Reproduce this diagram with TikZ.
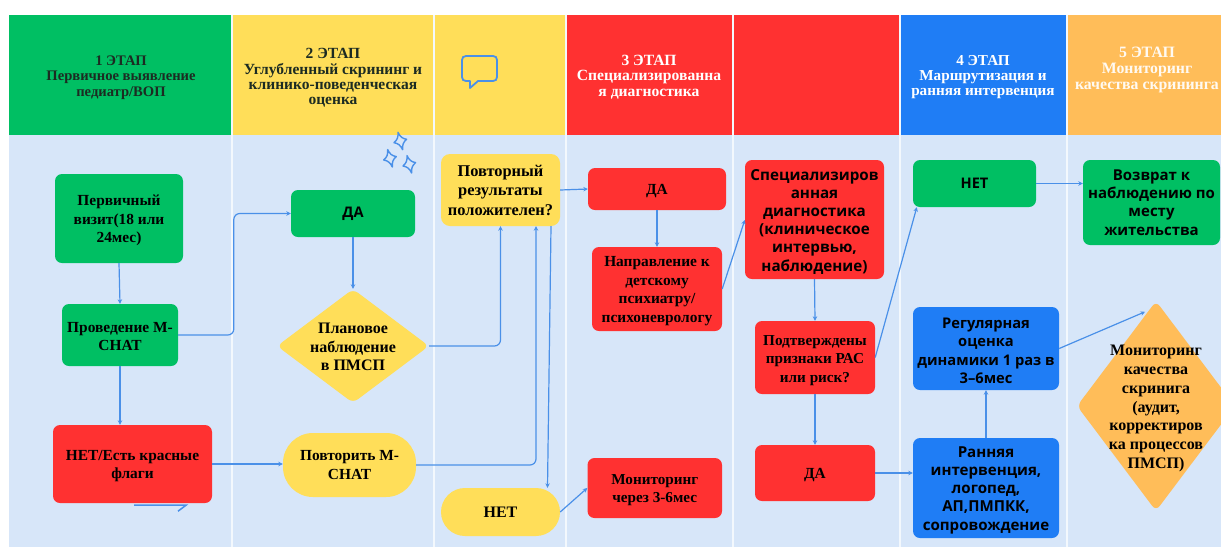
\documentclass[tikz,border=0pt]{standalone}
\usepackage{fontspec}
\setmainfont{Liberation Serif}
\newfontfamily\sansb{Open Sans}
\usetikzlibrary{arrows.meta,calc,shapes.geometric}
\definecolor{cgreen}{HTML}{00BF63}
\definecolor{cyellow}{HTML}{FFDE59}
\definecolor{cred}{HTML}{FF3131}
\definecolor{cblue}{HTML}{1F7DF5}
\definecolor{corange}{HTML}{FFBD59}
\definecolor{cbg}{HTML}{D7E6F9}
\definecolor{cline}{HTML}{4A90E8}
\definecolor{cdark}{HTML}{1C2B22}
\newcommand{\fs}[2]{\fontsize{#1}{#2}\selectfont\bfseries}
\newcommand{\fsans}[2]{\fontsize{#1}{#2}\selectfont\sansb\bfseries}
\newcommand{\lowr}[1]{\rule{0pt}{#1pt}}
\tikzset{
  headtxt/.style={align=center,inner sep=0pt},
  box/.style={rounded corners=7pt,inner sep=0pt,align=center,font=\fs{15.4}{18.3},text=black},
  sbox/.style={box,font=\fsans{14.6}{18.2}},
  dia/.style={diamond,rounded corners=6pt,inner sep=0pt},
  nodetxt/.style={align=center,inner sep=0pt,text=black},
  conn/.style={draw=cline,line width=1.2pt,-{Stealth[length=4.5pt,width=4.5pt]}},
  elbow/.style={conn,rounded corners=6pt},
  icon/.style={draw=cline,line width=1.8pt,line join=round}
}
\begin{document}
\begin{tikzpicture}[x=1pt,y=-1pt]
\useasboundingbox (0,0) rectangle (1221,547);
\fill[white] (0,0) rectangle (1221,547);
\fill[cbg] (9,135) rectangle (1221,547);
% header bands
\fill[cgreen]  (9,15)   rectangle (232,135);
\fill[cyellow] (232,15) rectangle (434,135);
\fill[cyellow] (434,15) rectangle (566,135);
\fill[cred]    (566,15) rectangle (733,135);
\fill[cred]    (733,15) rectangle (900,135);
\fill[cblue]   (900,15) rectangle (1067,135);
\fill[corange] (1067,15) rectangle (1221,135);
\foreach \xx in {232,434,566,733,900,1067}
  \draw[white!70!cbg,line width=1.4pt] (\xx,15) -- (\xx,547);
% header text
\node[headtxt,text=cdark,font=\fs{14.6}{15.3}] (h1) at (121,77.5) {1 ЭТАП\\Первичное выявление\\педиатр/ВОП};
\node[headtxt,text=cdark,font=\fs{15.5}{15.4}] (h2) at (333,78) {2 ЭТАП\\Углубленный скрининг и\\клинико-поведенческая\\оценка};
\node[headtxt,text=white,font=\fs{15.6}{15.4}] (h3) at (649,77) {3 ЭТАП\\Специализированна\\я диагностика};
\node[headtxt,text=white,font=\fs{15.2}{15.4}] (h4) at (983,77) {4 ЭТАП\\Маршрутизация и\\ранняя интервенция};
\node[headtxt,text=white!92!corange,font=\fs{15.8}{15.8}] (h5) at (1147,70) {5 ЭТАП\\Мониторинг\\качества скрининга};
% speech bubble icon
\draw[icon] (466,56) -- (493,56) .. controls (495.5,56) and (497,57.5) .. (497,60) -- (497,77)
  .. controls (497,79.5) and (495.5,81) .. (493,81) -- (478,81) -- (470,88) -- (470,81) -- (466,81)
  .. controls (463.5,81) and (462,79.5) .. (462,77) -- (462,60) .. controls (462,57.5) and (463.5,56) .. (466,56) -- cycle;
% sparkles
\foreach \px/\py in {400.3/141,390/158.3,409.3/164.3}
  \draw[icon,line width=1.4pt,shift={(\px,\py)},rotate=15]
    (0,-9) .. controls (1,-4) and (2.5,-2) .. (6.5,0) .. controls (2.5,2) and (1,4) .. (0,9)
    .. controls (-1,4) and (-2.5,2) .. (-6.5,0) .. controls (-2.5,-2) and (-1,-4) .. (0,-9) -- cycle;
% column 1
\node[box,fill=cgreen,minimum width=128pt,minimum height=89pt] (visit) at (119,218.5) {\lowr{14.5}Первичный\\визит(18 или\\24мес)};
\node[box,fill=cgreen,minimum width=116pt,minimum height=62pt] (mchat) at (120,335) {\lowr{12.5}Проведение М-\\СНАТ};
\node[box,fill=cred,minimum width=159pt,minimum height=78pt] (flags) at (132.5,464) {\lowr{14.5}НЕТ/Есть красные\\флаги};
% column 2
\node[sbox,fill=cgreen,minimum width=124pt,minimum height=47pt] (yes1) at (353,213.5) {ДА};
\node[dia,fill=cyellow,minimum width=152pt,minimum height=114pt] (plan) at (353,346) {};
\node[nodetxt,font=\fs{16}{18.6},yshift=-1pt] (plantxt) at (plan.center) {Плановое\\наблюдение\\в ПМСП};
\node[box,fill=cyellow,rounded corners=30pt,minimum width=133pt,minimum height=64pt] (again) at (349.5,465) {Повторить М-\\СНАТ};
% column 3
\node[box,fill=cyellow,rounded corners=9pt,font=\fs{16.4}{19.5},minimum width=119pt,minimum height=72pt] (result) at (500.5,190) {Повторный\\результаты\\положителен?};
\node[box,fill=cyellow,rounded corners=24pt,font=\fs{16}{18},minimum width=119pt,minimum height=48pt] (no1) at (500.5,512) {НЕТ};
% column 4
\node[box,fill=cred,minimum width=138pt,minimum height=42pt] (yes2) at (657,189) {\lowr{14.5}ДА};
\node[box,fill=cred,font=\fs{15.4}{18.6},minimum width=130pt,minimum height=84pt] (refer) at (657,289) {\lowr{14.5}Направление к\\детскому\\психиатру/\\психоневрологу};
\node[box,fill=cred,font=\fs{15.2}{18},minimum width=134.5pt,minimum height=60pt] (mon36) at (654.75,488) {\lowr{14.5}Мониторинг\\через 3-6мес};
% column 5
\node[sbox,fill=cred,font=\fsans{15.2}{18.2},minimum width=139pt,minimum height=119pt] (spec) at (814.5,219.5) {\lowr{15}Специализиров\\анная\\диагностика\\(клиническое\\интервью,\\наблюдение)};
\node[box,fill=cred,font=\fs{15.2}{18.6},minimum width=120pt,minimum height=73pt] (confirm) at (815,357.5) {\lowr{16}Подтверждены\\признаки РАС\\или риск?};
\node[box,fill=cred,minimum width=120pt,minimum height=56pt] (yes3) at (815,473) {\lowr{14.5}ДА};
% column 6
\node[sbox,fill=cgreen,minimum width=123pt,minimum height=47pt] (no2) at (974.5,183.5) {НЕТ};
\node[sbox,fill=cblue,font=\fsans{14.7}{18.2},minimum width=146pt,minimum height=83pt] (regular) at (986,348.5) {\lowr{15}Регулярная\\оценка\\динамики 1 раз в\\3–6мес};
\node[sbox,fill=cblue,font=\fsans{15.1}{18.3},minimum width=146pt,minimum height=100pt] (early) at (986,488) {\lowr{15}Ранняя\\интервенция,\\логопед,\\АП,ПМПКК,\\сопровождение};
% column 7
\node[sbox,fill=cgreen,font=\fsans{15}{18.2},minimum width=137pt,minimum height=85pt] (back) at (1151.5,202.5) {Возврат к\\наблюдению по\\месту\\жительства};
\begin{scope}
\clip (0,0) rectangle (1221,547);
\node[dia,fill=corange,minimum width=158pt,minimum height=210pt] (quality) at (1156,406) {};
\end{scope}
\node[nodetxt,font=\fs{16}{18.9},yshift=-2.5pt] (qualitytxt) at (quality.center) {Мониторинг\\качества\\скринига\\(аудит,\\корректиров\\ка процессов\\ПМСП)};
% connectors
\draw[conn] (visit.south) -- (mchat.north);
\draw[conn] (mchat.south) -- ($(flags.north)+(-12.5,0)$);
\draw[elbow] (mchat.east) -| ($(yes1.west)+(-57,0)$) -- (yes1.west);
\draw[conn] (flags.east) -- (again.west |- flags.east);
\draw[conn] (yes1.south) -- (plan.north);
\draw[elbow] (plan.east) -| (result.south);
\draw[elbow] (again.east) -| ($(result.south)+(35.5,0)$);
\draw[conn] ($(result.south)+(50.5,0)$) -- ($(no1.north)+(47,0)$);
\draw[conn] (result.east) -- (yes2.west);
\draw[conn] (no1.east) -- (mon36.west);
\draw[conn] (yes2.south) -- (refer.north);
\draw[conn] (refer.east) -- ($(spec.west)+(0,0.5)$);
\draw[conn] (spec.south) -- (confirm.north);
\draw[conn] (confirm.south) -- (yes3.north);
\draw[conn] (confirm.east) -- ($(no2.south west)+(4,0)$);
\draw[conn] (yes3.east) -- (early.west |- yes3.east);
\draw[conn] (early.north) -- (regular.south);
\draw[conn] (no2.east) -- (back.west |- no2.east);
\draw[conn] (regular.east) -- ($(quality.north)+(-11,11)$);
% stray half arrow under the red box
\coordinate (stray1) at ($(flags.south)+(1.5,2)$);
\coordinate (stray2) at ($(flags.south)+(53.5,2)$);
\coordinate (stray3) at ($(flags.south)+(45.5,8)$);
\draw[draw=cline,line width=1.5pt] (stray1) -- (stray2) -- (stray3);
\end{tikzpicture}
\end{document}
